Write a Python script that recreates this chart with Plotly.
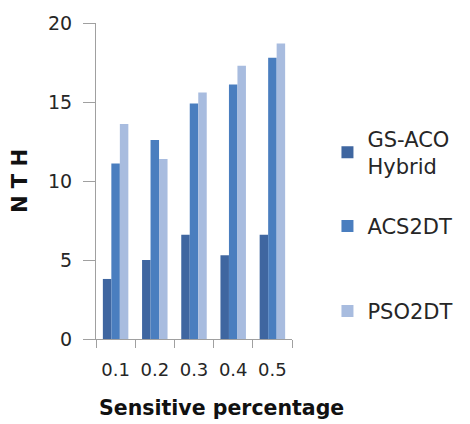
import plotly.graph_objects as go

categories = ["0.1", "0.2", "0.3", "0.4", "0.5"]
series_names = ["GS-ACO<br>Hybrid", "ACS2DT", "PSO2DT"]
gs_aco = [3.8, 5.0, 6.6, 5.3, 6.6]
acs2dt = [11.1, 12.6, 14.9, 16.1, 17.8]
pso2dt = [13.6, 11.4, 15.6, 17.3, 18.7]
y_ticks = [0, 5, 10, 15, 20]

colors = ["#3F66A0", "#4A7EBF", "#A8BCDF"]
FONT = "DejaVu Sans"
TXT = "#262626"

fig = go.Figure()
legends = ["legend", "legend2", "legend3"]
for name, vals, col, lg in zip(series_names, [gs_aco, acs2dt, pso2dt], colors, legends):
    fig.add_trace(go.Bar(x=categories, y=vals, name=name, marker_color=col,
                         marker_line_width=0, legend=lg, showlegend=True))

L, R, T, B = 96, 175, 19, 85
W, H = 470, 424
pw, ph = W - L - R, H - T - B

def px_x(p):
    return (p - L) / pw

def px_y(p):
    return (H - B - p) / ph

leg_common = dict(font=dict(family=FONT, size=21, color=TXT), bgcolor="rgba(0,0,0,0)",
                  xanchor="left", yanchor="middle", itemwidth=30)

fig.update_layout(
    width=W, height=H,
    margin=dict(l=L, r=R, t=T, b=B),
    paper_bgcolor="white", plot_bgcolor="white",
    barmode="group", bargap=0.35, bargroupgap=0,
    showlegend=True,
    font=dict(family=FONT, color=TXT),
    legend=dict(x=px_x(331), y=px_y(150), **leg_common),
    legend2=dict(x=px_x(331), y=px_y(225), **leg_common),
    legend3=dict(x=px_x(331), y=px_y(311), **leg_common),
    xaxis=dict(
        showline=True, linecolor="#A0A0A0", linewidth=1,
        ticks="outside", tickson="boundaries", ticklen=8, tickcolor="#A0A0A0",
        tickfont=dict(family=FONT, size=18, color=TXT),
        ticklabelstandoff=14,
        showgrid=False, zeroline=False,
    ),
    yaxis=dict(
        range=[0, 20], tickvals=y_ticks,
        showline=True, linecolor="#A0A0A0", linewidth=1,
        ticks="outside", ticklen=12, tickcolor="#A0A0A0",
        tickfont=dict(family=FONT, size=19, color=TXT),
        ticklabelstandoff=7,
        showgrid=False, zeroline=False,
        title=dict(text="<b>N T H</b>", font=dict(family=FONT, size=21, color="#111111"), standoff=14),
    ),
    annotations=[dict(
        text="<b>Sensitive percentage</b>", xref="paper", yref="paper",
        x=px_x(223), y=px_y(409), xanchor="center", yanchor="middle",
        showarrow=False, font=dict(family=FONT, size=20.5, color="#111111"),
    )],
)

fig.write_html("out.html")
